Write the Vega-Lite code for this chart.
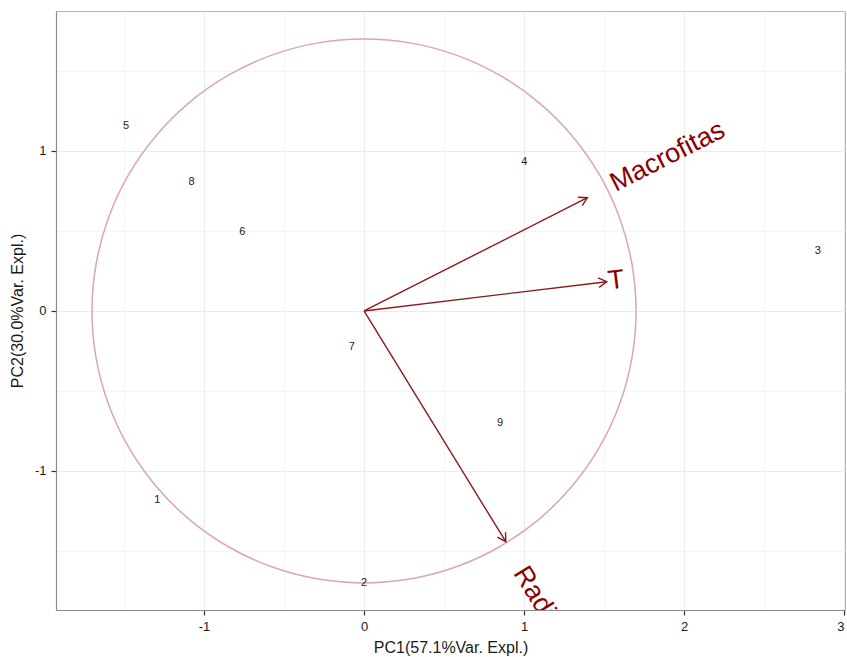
{
  "$schema": "https://vega.github.io/schema/vega-lite/v6.json",
  "width": 789,
  "height": 599,
  "autosize": {"type": "none"},
  "padding": {"left": 56, "top": 11, "right": 2, "bottom": 47},
  "background": "white",
  "config": {
    "font": "Liberation Sans",
    "view": {"stroke": "#b5b5b5", "strokeWidth": 1},
    "axis": {
      "domainColor": "#8c8c8c",
      "domainWidth": 1.2,
      "tickColor": "#333333",
      "tickSize": 5,
      "tickWidth": 1.2,
      "labelColor": "#1a1a1a",
      "labelFontSize": 13,
      "labelFont": "Liberation Sans",
      "titleFont": "Liberation Sans",
      "titleFontSize": 16,
      "titleFontWeight": "normal",
      "titleColor": "#1a1a1a",
      "gridWidth": 1
    }
  },
  "datasets": {
    "obs": [
      {"label": "1", "pc1": -1.292, "pc2": -1.181},
      {"label": "2", "pc1": 0.0, "pc2": -1.70},
      {"label": "3", "pc1": 2.836, "pc2": 0.377},
      {"label": "4", "pc1": 1.002, "pc2": 0.933},
      {"label": "5", "pc1": -1.4875, "pc2": 1.156},
      {"label": "6", "pc1": -0.760, "pc2": 0.492},
      {"label": "7", "pc1": -0.077, "pc2": -0.223},
      {"label": "8", "pc1": -1.077, "pc2": 0.804},
      {"label": "9", "pc1": 0.85, "pc2": -0.70}
    ],
    "vars": [
      {"name": "Macrofitas", "x": 1.396, "y": 0.708, "lx": 1.551, "ly": 0.789},
      {"name": "T", "x": 1.517, "y": 0.183, "lx": 1.525, "ly": 0.184},
      {"name": "Radiacion", "x": 0.886, "y": -1.442, "lx": 0.9725, "ly": -1.612}
    ],
    "circle": [
      {"i": 0, "x": 1.7, "y": 0},
      {"i": 1, "x": 1.6742, "y": 0.2952},
      {"i": 2, "x": 1.5975, "y": 0.5814},
      {"i": 3, "x": 1.4722, "y": 0.85},
      {"i": 4, "x": 1.3023, "y": 1.0927},
      {"i": 5, "x": 1.0927, "y": 1.3023},
      {"i": 6, "x": 0.85, "y": 1.4722},
      {"i": 7, "x": 0.5814, "y": 1.5975},
      {"i": 8, "x": 0.2952, "y": 1.6742},
      {"i": 9, "x": 0, "y": 1.7},
      {"i": 10, "x": -0.2952, "y": 1.6742},
      {"i": 11, "x": -0.5814, "y": 1.5975},
      {"i": 12, "x": -0.85, "y": 1.4722},
      {"i": 13, "x": -1.0927, "y": 1.3023},
      {"i": 14, "x": -1.3023, "y": 1.0927},
      {"i": 15, "x": -1.4722, "y": 0.85},
      {"i": 16, "x": -1.5975, "y": 0.5814},
      {"i": 17, "x": -1.6742, "y": 0.2952},
      {"i": 18, "x": -1.7, "y": 0},
      {"i": 19, "x": -1.6742, "y": -0.2952},
      {"i": 20, "x": -1.5975, "y": -0.5814},
      {"i": 21, "x": -1.4722, "y": -0.85},
      {"i": 22, "x": -1.3023, "y": -1.0927},
      {"i": 23, "x": -1.0927, "y": -1.3023},
      {"i": 24, "x": -0.85, "y": -1.4722},
      {"i": 25, "x": -0.5814, "y": -1.5975},
      {"i": 26, "x": -0.2952, "y": -1.6742},
      {"i": 27, "x": 0, "y": -1.7},
      {"i": 28, "x": 0.2952, "y": -1.6742},
      {"i": 29, "x": 0.5814, "y": -1.5975},
      {"i": 30, "x": 0.85, "y": -1.4722},
      {"i": 31, "x": 1.0927, "y": -1.3023},
      {"i": 32, "x": 1.3023, "y": -1.0927},
      {"i": 33, "x": 1.4722, "y": -0.85},
      {"i": 34, "x": 1.5975, "y": -0.5814},
      {"i": 35, "x": 1.6742, "y": -0.2952}
    ]
  },
  "layer": [
    {
      "data": {"name": "circle"},
      "mark": {"type": "line", "color": "#d8a6b8", "strokeWidth": 1.5, "interpolate": "cardinal-closed"},
      "encoding": {
        "x": {
          "field": "x", "type": "quantitative",
          "scale": {"domain": [-1.925, 3.006], "nice": false, "zero": false},
          "axis": {
            "title": "PC1(57.1%Var. Expl.)",
            "values": [-1.5, -1, -0.5, 0, 0.5, 1, 1.5, 2, 2.5, 3],
            "labelExpr": "datum.value % 1 === 0 ? '' + datum.value : ''",
            "tickOpacity": {"condition": {"test": "datum.value % 1 !== 0", "value": 0}, "value": 1},
            "gridColor": {"condition": {"test": "datum.value % 1 !== 0", "value": "#f4f4f4"}, "value": "#ebebeb"},
            "grid": true,
            "labelPadding": 5,
            "titlePadding": 6
          }
        },
        "y": {
          "field": "y", "type": "quantitative",
          "scale": {"domain": [-1.869, 1.875], "nice": false, "zero": false},
          "axis": {
            "title": "PC2(30.0%Var. Expl.)",
            "values": [-1.5, -1, -0.5, 0, 0.5, 1, 1.5],
            "labelExpr": "datum.value % 1 === 0 ? '' + datum.value : ''",
            "tickOpacity": {"condition": {"test": "datum.value % 1 !== 0", "value": 0}, "value": 1},
            "gridColor": {"condition": {"test": "datum.value % 1 !== 0", "value": "#f4f4f4"}, "value": "#ebebeb"},
            "grid": true,
            "labelPadding": 5,
            "titlePadding": 9
          }
        },
        "order": {"field": "i", "type": "quantitative"}
      }
    },
    {
      "data": {"name": "vars"},
      "mark": {"type": "rule", "color": "#8b1a1a", "strokeWidth": 1.4},
      "encoding": {
        "x": {"field": "x", "type": "quantitative"},
        "y": {"field": "y", "type": "quantitative"},
        "x2": {"datum": 0},
        "y2": {"datum": 0}
      }
    },
    {
      "data": {"name": "vars"},
      "transform": [{"calculate": "atan2(-datum.y, datum.x) * 180 / PI", "as": "ang"}],
      "mark": {"type": "point", "shape": "M -0.866 -0.5 L 0 0 L -0.866 0.5", "filled": false, "stroke": "#8b1a1a", "strokeWidth": 1.4, "size": 360, "opacity": 1},
      "encoding": {
        "x": {"field": "x", "type": "quantitative"},
        "y": {"field": "y", "type": "quantitative"},
        "angle": {"field": "ang", "type": "quantitative", "scale": null}
      }
    },
    {
      "data": {"name": "vars"},
      "transform": [{"calculate": "atan2(-datum.y, datum.x) * 180 / PI", "as": "ang"}],
      "mark": {"type": "text", "align": "left", "baseline": "middle", "fontSize": 27, "color": "#8b0000", "font": "Liberation Sans", "clip": true},
      "encoding": {
        "x": {"field": "lx", "type": "quantitative"},
        "y": {"field": "ly", "type": "quantitative"},
        "text": {"field": "name"},
        "angle": {"field": "ang", "type": "quantitative", "scale": null}
      }
    },
    {
      "data": {"name": "obs"},
      "mark": {"type": "text", "fontSize": 11, "color": "#1a1a1a", "font": "Liberation Sans", "align": "center", "baseline": "middle"},
      "encoding": {
        "x": {"field": "pc1", "type": "quantitative"},
        "y": {"field": "pc2", "type": "quantitative"},
        "text": {"field": "label"}
      }
    }
  ]
}
